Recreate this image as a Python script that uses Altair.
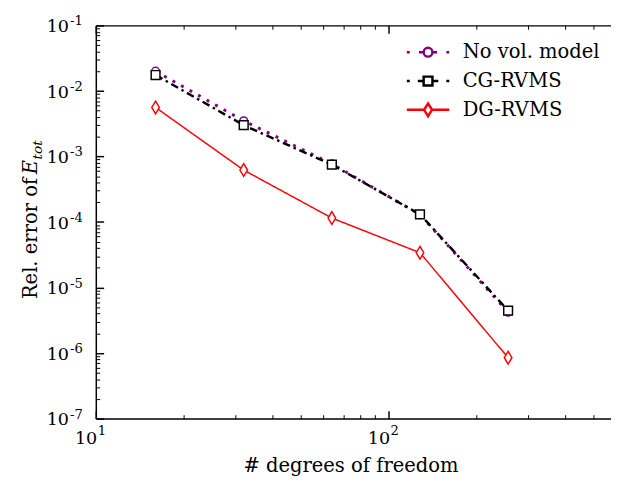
import altair as alt
import pandas as pd

# ---- data ----
dof = [16, 32, 64, 128, 256]
no_vol = [2.0e-2, 3.5e-3, 7.7e-4, 1.3e-4, 4.2e-6]
cg_rvms = [1.75e-2, 3.0e-3, 7.5e-4, 1.31e-4, 4.45e-6]
dg_rvms = [5.6e-3, 6.2e-4, 1.15e-4, 3.4e-5, 8.5e-7]
series_names = ["No vol. model", "CG-RVMS", "DG-RVMS"]
series_colors = ["#800080", "#000000", "#ff0000"]

x_major = [10, 100]
x_minor = [20, 30, 40, 50, 60, 70, 80, 90, 200, 300, 400, 500]
y_major = [1e-7, 1e-6, 1e-5, 1e-4, 1e-3, 1e-2, 1e-1]
y_minor = [m * 10.0 ** e for e in range(-7, -1) for m in range(2, 10)]

X_DOMAIN = [10, 575]
Y_DOMAIN = [1e-7, 1e-1]
W, H = 528, 403
FONT = "DejaVu Serif"

rows = []
for name, vals in zip(series_names, [no_vol, cg_rvms, dg_rvms]):
    for d, v in zip(dof, vals):
        rows.append({"dof": d, "err": v, "series": name})
df = pd.DataFrame(rows)

base = alt.Chart(df)


def xs():
    return alt.Scale(type="log", domain=X_DOMAIN, nice=False)


def ys():
    return alt.Scale(type="log", domain=Y_DOMAIN, nice=False)


def axis_layer(xaxis, yaxis=None):
    return base.mark_point(opacity=0).encode(
        x=alt.X("dof:Q", scale=xs(), axis=xaxis),
        y=alt.Y("err:Q", scale=ys(), axis=yaxis),
    )


common = dict(grid=False, labelFont=FONT, labelColor="black", titleFont=FONT,
              titleColor="black", titleFontWeight="normal", labelOverlap=False,
              labelFlush=False, labelBound=False)

# x axes
ax_x_lab = alt.Axis(orient="bottom", values=x_major, labelExpr="'10'", ticks=False,
                    domain=True, domainColor="black", domainWidth=1.5,
                    labelFontSize=18, labelAlign="right", labelBaseline="alphabetic",
                    labelPadding=25, labelOffset=1,
                    title="# degrees of freedom", titleFontSize=20,
                    titleAlign="center", titleBaseline="alphabetic",
                    titleX=W / 2 - 3, titleY=54, **common)
ax_x_sup = alt.Axis(orient="bottom", values=x_major,
                    labelExpr="'' + round(log(datum.value)/LN10)", ticks=False,
                    domain=False, labelFontSize=13.5, labelAlign="left",
                    labelBaseline="alphabetic", labelPadding=16.5, labelOffset=1.5,
                    title=None, **common)
ax_x_maj_b = alt.Axis(orient="bottom", values=x_major, labels=False, domain=False,
                      tickSize=8, tickWidth=1.5, tickColor="black", offset=-8,
                      title=None, grid=False)
ax_x_min_b = alt.Axis(orient="bottom", values=x_minor, labels=False, domain=False,
                      tickSize=4, tickWidth=1, tickColor="black", offset=-4,
                      title=None, grid=False)
ax_x_top = alt.Axis(orient="top", labels=False, ticks=False, domain=True,
                    domainColor="black", domainWidth=1.5, title=None, grid=False)
ax_x_maj_t = alt.Axis(orient="top", values=x_major, labels=False, domain=False,
                      tickSize=8, tickWidth=1.5, tickColor="black", offset=-8,
                      title=None, grid=False)
ax_x_min_t = alt.Axis(orient="top", values=x_minor, labels=False, domain=False,
                      tickSize=4, tickWidth=1, tickColor="black", offset=-4,
                      title=None, grid=False)

# y axes
ax_y_lab = alt.Axis(orient="left", values=y_major, labelExpr="'10'", ticks=False,
                    domain=True, domainColor="black", domainWidth=1.5,
                    labelFontSize=18, labelAlign="right", labelBaseline="alphabetic",
                    labelOffset=6.5, labelPadding=28,
                    title="Rel. error of", titleFontSize=20, titleAngle=270,
                    titleAlign="left", titleBaseline="alphabetic",
                    titleX=-60.5, titleY=280, **common)
ax_y_sup = alt.Axis(orient="left", values=y_major,
                    labelExpr="'-' + round(-log(datum.value)/LN10)", ticks=False,
                    domain=False, labelFontSize=13.5, labelAlign="left",
                    labelBaseline="alphabetic", labelOffset=-0.5, labelPadding=27,
                    title="E", titleFontSize=20, titleFontStyle="italic",
                    titleAngle=270, titleAlign="left", titleBaseline="alphabetic",
                    titleX=-60.5, titleY=152, **common)
ax_y_maj = alt.Axis(orient="left", values=y_major, labels=False, domain=False,
                    tickSize=8, tickWidth=1.5, tickColor="black", offset=-8,
                    title=None, grid=False)
ax_y_min = alt.Axis(orient="left", values=y_minor, labels=False, domain=False,
                    tickSize=4, tickWidth=1, tickColor="black", offset=-4,
                    title=None, grid=False)
ax_y_tot = alt.Axis(orient="left", labels=False, ticks=False, domain=False,
                    title="tot", titleFontSize=14, titleFontStyle="italic",
                    titleAngle=270, titleAlign="left", titleBaseline="alphabetic",
                    titleX=-56, titleY=137, **common)

axis_layers = [
    axis_layer(ax_x_lab, ax_y_lab),
    axis_layer(ax_x_sup, ax_y_sup),
    axis_layer(ax_x_maj_b, ax_y_maj),
    axis_layer(ax_x_min_b, ax_y_min),
    axis_layer(ax_x_top, ax_y_tot),
    axis_layer(ax_x_maj_t, None),
    axis_layer(ax_x_min_t, None),
]

# data layers
styles = {
    "No vol. model": dict(color="#800080", strokeDash=[3, 7], strokeWidth=3,
                          shape="circle", size=64),
    "CG-RVMS": dict(color="#000000", strokeDash=[8, 4, 2.5, 4], strokeWidth=2.5,
                    shape="square", size=81),
    "DG-RVMS": dict(color="#ff0000", strokeDash=[1, 0], strokeWidth=1.5,
                    shape="M0,-1L0.6,0L0,1L-0.6,0Z", size=169),
}

data_layers = []
for name in series_names:
    st = styles[name]
    sub = base.transform_filter(alt.datum.series == name)
    line = sub.mark_line(color=st["color"], strokeDash=st["strokeDash"],
                         strokeWidth=st["strokeWidth"]).encode(
        x=alt.X("dof:Q", scale=xs(), axis=None),
        y=alt.Y("err:Q", scale=ys(), axis=None),
    )
    pts = sub.mark_point(shape=st["shape"], size=st["size"], filled=True,
                         fill="white", stroke=st["color"], strokeWidth=1.5,
                         opacity=1).encode(
        x=alt.X("dof:Q", scale=xs(), axis=None),
        y=alt.Y("err:Q", scale=ys(), axis=None),
    )
    data_layers += [line, pts]

# legend symbols: line + marker drawn as one path per entry
legend_paths = [
    "M-1.45,0L-1.25,0M-0.62,0L-0.3,0M-0.3,0A0.3,0.3 0 1,0 0.3,0A0.3,0.3 0 1,0 -0.3,0"
    "M0.3,0L0.62,0M1.25,0L1.45,0",
    "M-1.45,0L-1.25,0M-0.7,0L-0.3,0M-0.3,-0.3L0.3,-0.3L0.3,0.3L-0.3,0.3Z"
    "M0.3,0L0.7,0M1.25,0L1.45,0",
    "M-1.45,0L-0.27,0M0,-0.43L0.27,0L0,0.43L-0.27,0ZM0.27,0L1.45,0",
]

leg = alt.Legend(orient="none", legendX=324, legendY=11, title=None,
                 labelFont=FONT, labelFontSize=20, labelColor="black",
                 symbolSize=900, symbolOpacity=1, labelOffset=19,
                 rowPadding=2.5, padding=0, labelLimit=400)

legend_layer = base.mark_point(opacity=0, filled=False).encode(
    x=alt.X("dof:Q", scale=xs(), axis=None),
    y=alt.Y("err:Q", scale=ys(), axis=None),
    shape=alt.Shape("series:N", scale=alt.Scale(domain=series_names, range=legend_paths),
                    legend=leg, sort=series_names),
    color=alt.Color("series:N", scale=alt.Scale(domain=series_names, range=series_colors),
                    legend=leg, sort=series_names),
    strokeWidth=alt.StrokeWidth("series:N",
                                scale=alt.Scale(domain=series_names, range=[2.5, 2.5, 1.5]),
                                legend=leg, sort=series_names),
)

chart = alt.layer(*axis_layers, *data_layers, legend_layer).resolve_axis(
    x="independent", y="independent"
).properties(
    width=W, height=H,
    autosize=alt.AutoSizeParams(type="none"),
    padding={"left": 90, "top": 12, "right": 0, "bottom": 54},
    background="white",
).configure_view(stroke=None)

chart.save("out.html", embed_options={"renderer": "svg", "actions": False})
